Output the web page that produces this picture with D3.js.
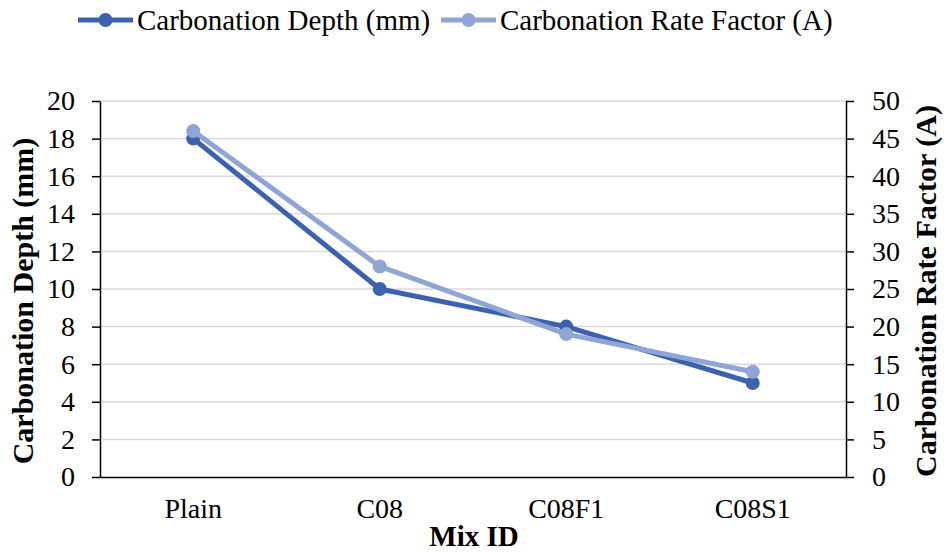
<!DOCTYPE html>
<html><head><meta charset="utf-8">
<script src="https://cdn.jsdelivr.net/npm/d3@7"></script>
<style>body{margin:0;background:#fff}svg{display:block}text{font-family:"Liberation Serif","Times New Roman",serif}</style>
</head><body>
<script>
const categories = ["Plain", "C08", "C08F1", "C08S1"];
const depthValues = [18, 10, 8, 5];
const rateValues = [46, 28, 19, 14];
const leftTicks = [0,2,4,6,8,10,12,14,16,18,20];
const rightTicks = [0,5,10,15,20,25,30,35,40,45,50];
const seriesNames = ["Carbonation Depth (mm)", "Carbonation Rate Factor (A)"];

const W = 947, H = 552;
const m = {left:100, right:947-846, top:101, bottom:552-477};
const font = '"Liberation Serif","Times New Roman",serif';
const c1 = "#3A62AE", c2 = "#8FA5D6";

const svg = d3.select("body").append("svg").attr("width", W).attr("height", H);

const x = d3.scaleBand().domain(categories).range([m.left, W-m.right]);
const yL = d3.scaleLinear().domain([0,20]).range([H-m.bottom, m.top]);
const yR = d3.scaleLinear().domain([0,50]).range([H-m.bottom, m.top]);

// gridlines
svg.append("g").selectAll("line").data(leftTicks.filter(d=>d>0)).join("line")
  .attr("x1", m.left).attr("x2", W-m.right)
  .attr("y1", d=>yL(d)).attr("y2", d=>yL(d))
  .attr("stroke", "#d9d9d9").attr("stroke-width", 1.5);

const gL = svg.append("g").attr("transform", `translate(${m.left},0)`)
  .call(d3.axisLeft(yL).tickValues(leftTicks).tickSize(8).tickPadding(17).tickSizeOuter(0));
const gR = svg.append("g").attr("transform", `translate(${W-m.right},0)`)
  .call(d3.axisRight(yR).tickValues(rightTicks).tickSize(8).tickPadding(18).tickSizeOuter(0));
const gB = svg.append("g").attr("transform", `translate(0,${H-m.bottom})`)
  .call(d3.axisBottom(x).tickSize(0).tickPadding(21).tickSizeOuter(0));

[gL,gR,gB].forEach(g=>{
  g.attr("font-family", null).attr("font-size", null);
  g.selectAll("path,line").attr("stroke","#000").attr("stroke-width",1.5);
  g.selectAll("text").style("font-family", font).style("font-size", "28px").attr("fill","#000");
});

const cx = (d,i)=>x(categories[i])+x.bandwidth()/2;
const lineL = d3.line().x(cx).y(d=>yL(d));
const lineR = d3.line().x(cx).y(d=>yR(d));

svg.append("path").datum(depthValues).attr("d", lineL).attr("fill","none")
  .attr("stroke", c1).attr("stroke-width", 5).attr("stroke-linejoin","round");
svg.append("g").selectAll("circle").data(depthValues).join("circle")
  .attr("cx",cx).attr("cy", d=>yL(d)).attr("r",7).attr("fill", c1);

svg.append("path").datum(rateValues).attr("d", lineR).attr("fill","none")
  .attr("stroke", c2).attr("stroke-width", 5).attr("stroke-linejoin","round");
svg.append("g").selectAll("circle").data(rateValues).join("circle")
  .attr("cx",cx).attr("cy", d=>yR(d)).attr("r",7).attr("fill", c2);

// axis titles
svg.append("text").attr("transform", `translate(33,301) rotate(-90)`)
  .attr("text-anchor","middle").attr("font-weight","bold").style("font-size","30px")
  .text("Carbonation Depth (mm)");
svg.append("text").attr("transform", `translate(936,291) rotate(-90)`)
  .attr("text-anchor","middle").attr("font-weight","bold").style("font-size","30px")
  .text("Carbonation Rate Factor (A)");
svg.append("text").attr("x", 474).attr("y", 546)
  .attr("text-anchor","middle").attr("font-weight","bold").style("font-size","29px")
  .text("Mix ID");

// legend
const leg = [{name:seriesNames[0], c:c1, x:78}, {name:seriesNames[1], c:c2, x:441}];
const lg = svg.append("g");
leg.forEach(l=>{
  lg.append("line").attr("x1", l.x).attr("x2", l.x+55).attr("y1", 20).attr("y2", 20)
    .attr("stroke", l.c).attr("stroke-width", 5);
  lg.append("circle").attr("cx", l.x+27.5).attr("cy", 20).attr("r", 7).attr("fill", l.c);
  lg.append("text").attr("x", l.x+59).attr("y", 30).style("font-size", "29px").text(l.name);
});
</script>
</body></html>
